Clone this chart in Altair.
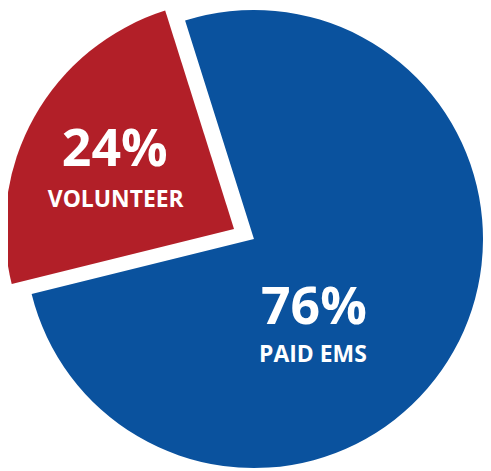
import math
import altair as alt
import pandas as pd

categories = ["PAID EMS", "VOLUNTEER"]
values = [76, 24]
pct_labels = ["76%", "24%"]
order = [0, 1]
colors = ["#0a529e", "#b21f28"]

df = pd.DataFrame({"category": categories, "value": values, "pct": pct_labels, "order": order})

start = math.radians(-17.5)
theta_scale = alt.Scale(domain=[0, 100], range=[start, start + 2 * math.pi])
color_scale = alt.Scale(domain=categories, range=colors)

base = (
    alt.Chart(df)
    .transform_stack(stack="value", groupby=[], as_=["v0", "v1"], sort=[alt.SortField("order")])
    .transform_calculate(mid="(datum.v0 + datum.v1) / 2")
)


def arc(cat, xo=0, yo=0):
    return (
        base.transform_filter(alt.datum.category == cat)
        .mark_arc(radius=230, xOffset=xo, yOffset=yo)
        .encode(
            theta=alt.Theta("v0:Q", scale=theta_scale),
            theta2="v1:Q",
            color=alt.Color("category:N", scale=color_scale, legend=None),
        )
    )


def label(cat, field, r, dx, dy, size):
    return (
        base.transform_filter(alt.datum.category == cat)
        .mark_text(
            radius=r, dx=dx, dy=dy, font="Open Sans", fontWeight="bold",
            fontSize=size, color="white", baseline="alphabetic", align="center",
        )
        .encode(theta=alt.Theta("mid:Q", scale=theta_scale), text=f"{field}:N")
    )


chart = alt.layer(
    arc("PAID EMS"),
    arc("VOLUNTEER", -20, -10),
    label("PAID EMS", "pct", 100, -27, 36, 52),
    label("PAID EMS", "category", 100, -28, 75, 23),
    label("VOLUNTEER", "pct", 150, -9, 0, 52),
    label("VOLUNTEER", "category", 150, -8, 41, 23),
).properties(
    width=456,
    height=462,
    padding={"left": 19, "top": 0, "right": 2, "bottom": 0},
    autosize=alt.AutoSizeParams(type="none"),
).configure_view(stroke=None)

chart.save("out.html", embed_options={"renderer": "svg", "actions": False})
